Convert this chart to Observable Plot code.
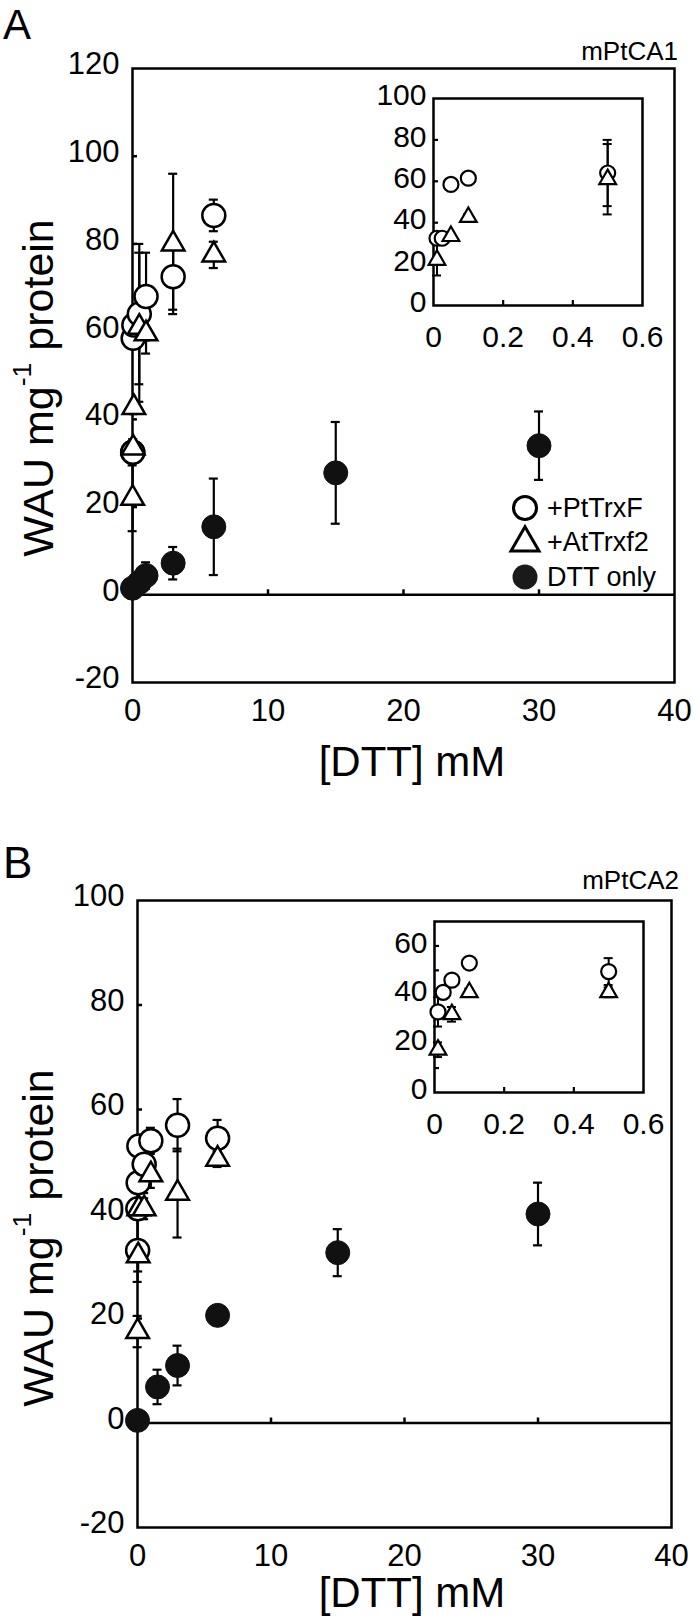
<!DOCTYPE html>
<html>
<head>
<meta charset="utf-8">
<script src="https://cdn.jsdelivr.net/npm/d3@7"></script>
<script src="https://cdn.jsdelivr.net/npm/@observablehq/plot@0.6"></script>
<style>
  html, body { margin: 0; padding: 0; background: #fff; }
  #fig { position: relative; width: 700px; height: 1624px; overflow: hidden; background: #fff;
         font-family: "Liberation Sans", Arial, Helvetica, sans-serif; color: #000; }
  .layer { position: absolute; left: 0; }
  .layer svg { display: block; }
  .txt { position: absolute; line-height: 1; white-space: nowrap; }
  .ylab { position: absolute; line-height: 1; white-space: nowrap; font-size: 43px;
          transform: translate(-50%, -50%) rotate(-90deg); }
  .ylab sup { font-size: 0.62em; vertical-align: 0.8em; line-height: 0; }
</style>
</head>
<body>
<div id="fig"></div>
<script>
// ---------------- text ----------------
const panelLetters = ["A", "B"];
const panelNames = ["mPtCA1", "mPtCA2"];
const seriesNames = ["+PtTrxF", "+AtTrxf2", "DTT only"];
const yTitle = "WAU mg";
const yTitleSup = "-1";
const yTitleEnd = " protein";
const xTitle = "[DTT] mM";

// ---------------- data: panel A (mPtCA1) ----------------
const aPtTrxFDtt = [0.01, 0.025, 0.05, 0.1, 0.5, 1, 3, 6];
const aPtTrxFWau = [32.5, 32.5, 58.5, 61.5, 64, 68, 72.5, 86.5];
const aPtTrxFSd  = [2.5, 2, 2, 2, 16, 10, 7.5, 3.6];
const aAtTrxf2Dtt = [0.01, 0.05, 0.1, 0.5, 1, 3, 6];
const aAtTrxf2Wau = [22, 33.5, 42.7, 61, 59.5, 80, 77.5];
const aAtTrxf2Sd  = [7.5, 2, 1.5, 17, 4.5, 16, 3];
const aDttOnlyDtt = [0, 0.5, 1, 3, 6, 15, 30];
const aDttOnlyWau = [1.5, 2.8, 4.4, 7.2, 15.5, 27.8, 34];
const aDttOnlySd  = [0, 1.5, 3, 3.7, 11, 11.6, 7.8];

// ---------------- data: panel B (mPtCA2) ----------------
const bPtTrxFDtt = [0.01, 0.025, 0.05, 0.1, 0.5, 1, 3, 6];
const bPtTrxFWau = [33, 41, 46, 53, 49.5, 54, 57, 54.5];
const bPtTrxFSd  = [6, 2, 2, 2, 5.5, 2.5, 5, 3.5];
const bAtTrxf2Dtt = [0.01, 0.05, 0.1, 0.5, 1, 3, 6];
const bAtTrxf2Wau = [17.5, 32, 41, 41, 47.5, 44, 50.5];
const bAtTrxf2Sd  = [3, 3, 1.5, 2, 2.5, 8.5, 1.5];
const bDttOnlyDtt = [0, 1.5, 3, 6, 15, 30];
const bDttOnlyWau = [0.5, 6.9, 11, 20.6, 32.6, 40];
const bDttOnlySd  = [0, 3.3, 3.8, 0, 4.5, 6];

// ---------------- scales / ticks ----------------
const mainDttDomain = [0, 40];
const mainDttTicks = [0, 10, 20, 30, 40];
const aMainWauDomain = [-20, 120];
const aMainWauTicks = [-20, 0, 20, 40, 60, 80, 100, 120];
const bMainWauDomain = [-20, 100];
const bMainWauTicks = [-20, 0, 20, 40, 60, 80, 100];
const insetDttDomain = [0, 0.6];
const insetDttTicks = [0, 0.2, 0.4, 0.6];
const aInsetWauDomain = [0, 100];
const aInsetWauTicks = [0, 20, 40, 60, 80, 100];
const aInsetWauMinor = [20, 40, 60, 80];
const bInsetWauDomain = [0, 70];
const bInsetWauTicks = [0, 20, 40, 60];
const bInsetWauMinor = [10, 20, 30, 40, 50, 60];

// ---------------- helpers ----------------
const FONT = '"Liberation Sans", Arial, Helvetica, sans-serif';
const fig = document.getElementById("fig");
const rows = (xs, ys, es) => xs.map((x, i) => ({x, y: ys[i], e: es[i]}));
const fmt = d => `${d}`;

function errorMarks(data, capHalf, sw) {
  const d = data.filter(r => r.e > 0);
  return [
    Plot.ruleX(d, {x: "x", y1: r => r.y - r.e, y2: r => r.y + r.e, stroke: "#000", strokeWidth: sw}),
    Plot.ruleY(d, {y: r => r.y + r.e, x1: "x", x2: "x", insetLeft: -capHalf, insetRight: -capHalf, stroke: "#000", strokeWidth: sw}),
    Plot.ruleY(d, {y: r => r.y - r.e, x1: "x", x2: "x", insetLeft: -capHalf, insetRight: -capHalf, stroke: "#000", strokeWidth: sw})
  ];
}

function addLayer(node, top) {
  const div = document.createElement("div");
  div.className = "layer";
  div.style.top = top + "px";
  div.appendChild(node);
  fig.appendChild(div);
}

function addText(str, o) {
  const div = document.createElement("div");
  div.className = "txt";
  div.textContent = str;
  div.style.fontSize = o.size + "px";
  div.style.top = (o.baseline - 0.8465 * o.size) + "px";
  if (o.left != null) div.style.left = o.left + "px";
  if (o.right != null) div.style.right = (700 - o.right) + "px";
  if (o.center != null) { div.style.left = o.center + "px"; div.style.transform = "translateX(-50%)"; }
  fig.appendChild(div);
}

function addYTitle(cx, cy) {
  const div = document.createElement("div");
  div.className = "ylab";
  div.style.left = cx + "px";
  div.style.top = cy + "px";
  div.appendChild(document.createTextNode(yTitle));
  const sup = document.createElement("sup");
  sup.textContent = yTitleSup;
  div.appendChild(sup);
  div.appendChild(document.createTextNode(yTitleEnd));
  fig.appendChild(div);
}

function mainPlot(o) {
  const trxF = rows(...o.trxF), trxf2 = rows(...o.trxf2), dtt = rows(...o.dtt);
  const yInner = o.yTicks.filter(v => v > o.yDomain[0] && v < o.yDomain[1] && v !== 0);
  const xInner = mainDttTicks.filter(v => v > mainDttDomain[0] && v < mainDttDomain[1]);
  return Plot.plot({
    width: 700, height: o.height,
    marginTop: o.mt, marginBottom: o.mb, marginLeft: o.ml, marginRight: o.mr,
    x: {domain: mainDttDomain},
    y: {domain: o.yDomain},
    style: {background: "transparent", fontFamily: FONT, color: "#000", overflow: "visible"},
    marks: [
      Plot.frame({stroke: "#000", strokeWidth: 2.5}),
      Plot.ruleY([0], {stroke: "#000", strokeWidth: 2.5}),
      Plot.ruleY(yInner, {y: d => d, x1: mainDttDomain[0], x2: mainDttDomain[0], insetRight: -5, stroke: "#000", strokeWidth: 2.5}),
      Plot.ruleX(xInner, {x: d => d, y1: 0, y2: 0, insetBottom: 5, stroke: "#000", strokeWidth: 2.5}),
      Plot.axisY(o.yTicks, {anchor: "left", tickSize: 0, tickPadding: 13, dy: -4, fontSize: 31, tickFormat: fmt, label: null}),
      Plot.axisX(mainDttTicks, {anchor: "bottom", tickSize: 0, tickPadding: 16, fontSize: 31, tickFormat: fmt, label: null}),
      ...errorMarks(trxF, 4.5, 2.2),
      ...errorMarks(trxf2, 4.5, 2.2),
      ...errorMarks(dtt, 4.5, 2.2),
      Plot.dot(trxF, {x: "x", y: "y", r: 11.5, symbol: "circle", fill: "white", stroke: "#000", strokeWidth: 2.5}),
      Plot.dot(trxf2, {x: "x", y: "y", r: 8.4, symbol: "triangle", fill: "white", stroke: "#000", strokeWidth: 2.5}),
      Plot.dot(dtt, {x: "x", y: "y", r: 12, symbol: "circle", fill: "#111", stroke: "#111", strokeWidth: 1})
    ]
  });
}

function insetPlot(o) {
  const inDom = r => r.x <= insetDttDomain[1];
  const trxF = rows(...o.trxF).filter(inDom), trxf2 = rows(...o.trxf2).filter(inDom);
  const xInner = insetDttTicks.filter(v => v > insetDttDomain[0] && v < insetDttDomain[1]);
  return Plot.plot({
    width: 700, height: o.height,
    marginTop: o.mt, marginBottom: o.mb, marginLeft: o.ml, marginRight: o.mr,
    x: {domain: insetDttDomain},
    y: {domain: o.yDomain},
    style: {background: "transparent", fontFamily: FONT, color: "#000", overflow: "visible"},
    marks: [
      Plot.frame({fill: "white", stroke: "#000", strokeWidth: 2.5}),
      Plot.ruleY(o.yMinor, {y: d => d, x1: insetDttDomain[0], x2: insetDttDomain[0], insetRight: -5, stroke: "#000", strokeWidth: 2.2}),
      Plot.ruleX(xInner, {x: d => d, y1: o.yDomain[0], y2: o.yDomain[0], insetBottom: 5, stroke: "#000", strokeWidth: 2.2}),
      Plot.axisY(o.yTicks, {anchor: "left", tickSize: 0, tickPadding: 7, dy: -3, fontSize: 30, tickFormat: fmt, label: null}),
      Plot.axisX(insetDttTicks, {anchor: "bottom", tickSize: 0, tickPadding: 20, fontSize: 30, tickFormat: fmt, label: null}),
      ...errorMarks(trxF, 4.5, 2),
      ...errorMarks(trxf2, 4.5, 2),
      Plot.dot(trxF, {x: "x", y: "y", r: 7.5, symbol: "circle", fill: "white", stroke: "#000", strokeWidth: 2.2}),
      Plot.dot(trxf2, {x: "x", y: "y", r: 6.2, symbol: "triangle", fill: "white", stroke: "#000", strokeWidth: 2.2})
    ]
  });
}

// ---------------- panel A ----------------
addLayer(mainPlot({
  height: 800, mt: 68, mb: 118, ml: 132, mr: 26,
  yDomain: aMainWauDomain, yTicks: aMainWauTicks,
  trxF: [aPtTrxFDtt, aPtTrxFWau, aPtTrxFSd],
  trxf2: [aAtTrxf2Dtt, aAtTrxf2Wau, aAtTrxf2Sd],
  dtt: [aDttOnlyDtt, aDttOnlyWau, aDttOnlySd]
}), 0);
addLayer(insetPlot({
  height: 380, mt: 98, mb: 75, ml: 433, mr: 58,
  yDomain: aInsetWauDomain, yTicks: aInsetWauTicks, yMinor: aInsetWauMinor,
  trxF: [aPtTrxFDtt, aPtTrxFWau, aPtTrxFSd],
  trxf2: [aAtTrxf2Dtt, aAtTrxf2Wau, aAtTrxf2Sd]
}), 0);

// ---------------- panel B ----------------
addLayer(mainPlot({
  height: 824, mt: 100, mb: 97, ml: 137, mr: 29,
  yDomain: bMainWauDomain, yTicks: bMainWauTicks,
  trxF: [bPtTrxFDtt, bPtTrxFWau, bPtTrxFSd],
  trxf2: [bAtTrxf2Dtt, bAtTrxf2Wau, bAtTrxf2Sd],
  dtt: [bDttOnlyDtt, bDttOnlyWau, bDttOnlySd]
}), 800);
addLayer(insetPlot({
  height: 380, mt: 121, mb: 88, ml: 434, mr: 57,
  yDomain: bInsetWauDomain, yTicks: bInsetWauTicks, yMinor: bInsetWauMinor,
  trxF: [bPtTrxFDtt, bPtTrxFWau, bPtTrxFSd],
  trxf2: [bAtTrxf2Dtt, bAtTrxf2Wau, bAtTrxf2Sd]
}), 800);

// ---------------- texts ----------------
addText(panelLetters[0], {left: 3, baseline: 40, size: 42});
addText(panelLetters[1], {left: 3, baseline: 878, size: 44});
addText(panelNames[0], {right: 678, baseline: 60, size: 26});
addText(panelNames[1], {right: 679, baseline: 889, size: 26});
addYTitle(38, 388);
addYTitle(38, 1238);
addText(xTitle, {center: 412, baseline: 777, size: 42});
addText(xTitle, {center: 412, baseline: 1608, size: 42});

// ---------------- legend (panel A) ----------------
const legendRows = [
  {name: seriesNames[0], cy: 508, draw: s => s.append("circle").attr("cx", 14).attr("cy", 14).attr("r", 11.5).attr("fill", "white").attr("stroke", "#000").attr("stroke-width", 3)},
  {name: seriesNames[1], cy: 542, draw: s => s.append("path").attr("transform", "translate(14,15)").attr("d", d3.symbol(d3.symbolTriangle, 340)()).attr("fill", "white").attr("stroke", "#000").attr("stroke-width", 3)},
  {name: seriesNames[2], cy: 577, draw: s => s.append("circle").attr("cx", 14).attr("cy", 14).attr("r", 12.5).attr("fill", "#1a1a1a")}
];
for (const row of legendRows) {
  const svg = d3.create("svg").attr("width", 28).attr("height", 28)
    .style("position", "absolute").style("left", "511px").style("top", (row.cy - 14) + "px").style("overflow", "visible");
  row.draw(svg);
  fig.appendChild(svg.node());
  addText(row.name, {left: 547, baseline: row.cy + 9.7, size: 27});
}
</script>
</body>
</html>
